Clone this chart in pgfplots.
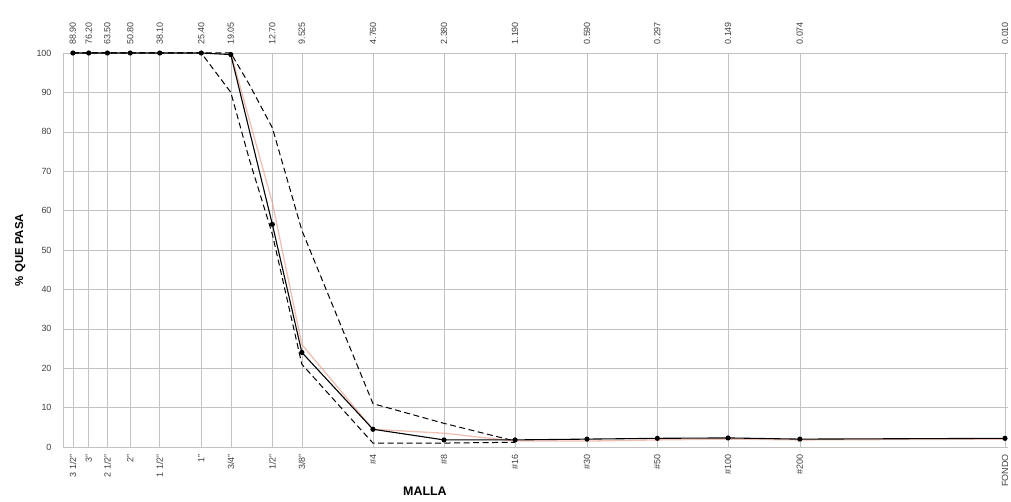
\documentclass[border=0pt]{standalone}
\usepackage{fontspec}
\setmainfont{Liberation Sans}
\usepackage{pgfplots}
\pgfplotsset{compat=1.18}
\definecolor{gridc}{gray}{0.76}
\definecolor{pinkc}{RGB}{232,150,130}
\begin{document}
\begin{tikzpicture}
\useasboundingbox (0,0) rectangle (1011bp,502bp);
\begin{axis}[
  xmode=log, x dir=reverse,
  at={(63bp,55bp)}, anchor=south west,
  scale only axis, width=945bp, height=394bp,
  xmin=0.00971, xmax=97.9, ymin=0, ymax=100,
  xtick={88.9,76.2,63.5,50.8,38.1,25.4,19.05,12.7,9.525,4.76,2.38,1.19,0.59,0.297,0.149,0.074,0.010},
  ytick={0,10,...,100},
  major tick length=0pt, clip=false,
  /pgf/number format/assume math mode=true,
  tick label style={font=\fontsize{9}{10}\selectfont, text=black!75},
  axis x line*=top, axis y line*=right,
  axis line style={draw=none},
  xticklabels={88.90,76.20,63.50,50.80,38.10,25.40,19.05,12.70,9.525,4.760,2.380,1.190,0.590,0.297,0.149,0.074,0.010},
  xticklabel style={rotate=90, anchor=west, xshift=5bp},
  yticklabels={},
]
\addplot[draw=none] coordinates {(1,50)};
\end{axis}
\begin{axis}[
  xmode=log, x dir=reverse,
  at={(63bp,55bp)}, anchor=south west,
  scale only axis, width=945bp, height=394bp,
  xmin=0.00971, xmax=97.9, ymin=0, ymax=100,
  xtick={88.9,76.2,63.5,50.8,38.1,25.4,19.05,12.7,9.525,4.76,2.38,1.19,0.59,0.297,0.149,0.074,0.010},
  ytick={0,10,...,100},
  major tick length=0pt, clip=false,
  /pgf/number format/assume math mode=true,
  tick label style={font=\fontsize{9}{10}\selectfont, text=black!75},
  axis x line*=bottom, axis y line*=left,
  axis line style={draw=gridc, line width=0.5bp},
  grid=major, grid style={draw=gridc, line width=0.5bp},
  xticklabels={{3 1/2"},{3"},{2 1/2"},{2"},{1 1/2"},{1"},{3/4"},{1/2"},{3/8"},{\#4},{\#8},{\#16},{\#30},{\#50},{\#100},{\#200},{FONDO}},
  xticklabel style={rotate=90, anchor=east, xshift=-4bp},
  yticklabel style={xshift=-8bp},
  ylabel={\textbf{\% QUE PASA}},
  ylabel style={font=\fontsize{11.5}{13}\selectfont, at={(rel axis cs:0,0.5)}, anchor=south, yshift=34bp},
  xlabel={\textbf{MALLA}},
  xlabel style={font=\fontsize{12.5}{14}\selectfont, at={(rel axis cs:0.383,0)}, anchor=north, yshift=-36bp},
]
% upper limit
\addplot[black, dash pattern=on 6bp off 3.5bp, line width=1bp] coordinates {
 (88.9,100) (25.4,100) (19.05,100) (15.9,92) (12.7,81) (9.525,55) (4.76,11) (2.38,6) (1.19,1.5)};
% lower limit
\addplot[black, dash pattern=on 6bp off 3.5bp, line width=1bp] coordinates {
 (88.9,100) (25.4,100) (19.05,90) (15.9,73) (12.7,54) (9.525,21) (4.76,1) (2.38,1) (1.19,1.2)};
% second faint curve
\addplot[pinkc, line width=1.3bp, opacity=0.6] coordinates {
 (19.05,100) (12.7,62) (9.525,26) (4.76,4.5) (2.38,3.5) (1.19,1.5) (0.59,1.5) (0.297,1.8) (0.149,2.0) (0.074,1.8) (0.010,2.0)};
% sample
\addplot[black, line width=1.1bp, mark=*, mark size=2bp] coordinates {
 (88.9,100) (76.2,100) (63.5,100) (50.8,100) (38.1,100) (25.4,100) (19.05,99.6) (12.7,56.5) (9.525,24) (4.76,4.5) (2.38,1.8) (1.19,1.8) (0.59,2.0) (0.297,2.2) (0.149,2.3) (0.074,2.0) (0.010,2.2)};
\end{axis}
\end{tikzpicture}
\end{document}
